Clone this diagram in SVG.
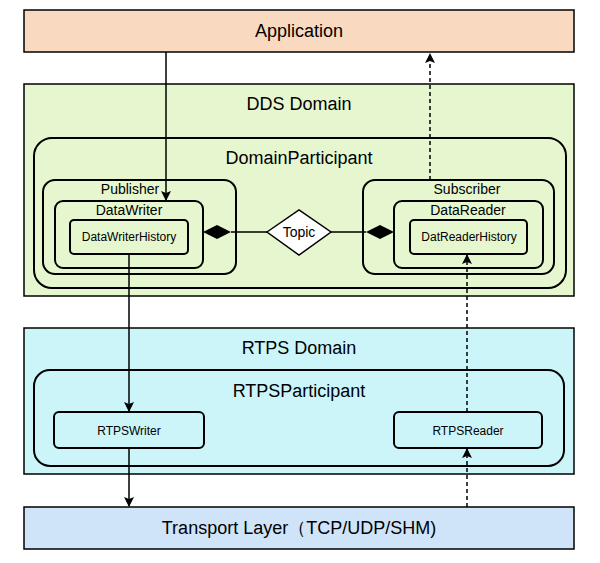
<svg xmlns="http://www.w3.org/2000/svg" width="600" height="563" viewBox="0 0 600 563">
<style>
text{font-family:"Liberation Sans",Arial,sans-serif;fill:#000;text-anchor:middle}
.b{stroke:#000;stroke-width:2;fill:none}
.l{font-size:18px}.m{font-size:14px}.s{font-size:12px}
.c{stroke:#000;stroke-width:1.5;fill:none}
.d{stroke-dasharray:4 3}
</style>
<defs><marker id="a" markerWidth="10" markerHeight="10" refX="9" refY="5" orient="auto" markerUnits="userSpaceOnUse"><path d="M0,0L10,5L0,10L2,5Z" fill="#000"/></marker></defs>
<rect width="600" height="563" fill="#fff"/>
<g id="application"><rect x="24" y="10" width="550" height="42" fill="#fad9c1" stroke="#000" stroke-width="1.5"/><text class="l" x="299" y="37">Application</text></g>
<g id="dds"><rect x="24" y="84" width="550" height="212" fill="#e6f7cf" stroke="#000" stroke-width="1.5"/><text class="l" x="299" y="110">DDS Domain</text></g>
<g id="domainparticipant"><rect class="b" x="34" y="138" width="532" height="150" rx="18"/><text class="l" x="299" y="164">DomainParticipant</text></g>
<g id="publisher"><rect class="b" x="43" y="180" width="193" height="94" rx="12"/><text class="m" x="130" y="194">Publisher</text></g>
<g id="datawriter"><rect class="b" x="55" y="201" width="148" height="67" rx="8"/><text class="m" x="129" y="215">DataWriter</text></g>
<g id="datawriterhistory"><rect class="b" x="70" y="220" width="118" height="34" rx="4"/><text class="s" x="129" y="241">DataWriterHistory</text></g>
<g id="subscriber"><rect class="b" x="363" y="180" width="191" height="94" rx="12"/><text class="m" x="467" y="194">Subscriber</text></g>
<g id="datareader"><rect class="b" x="394" y="201" width="149" height="67" rx="8"/><text class="m" x="468" y="215">DataReader</text></g>
<g id="datreaderhistory"><rect class="b" x="410" y="220" width="117" height="34" rx="4"/><text class="s" x="469" y="241">DatReaderHistory</text></g>
<g id="topic"><path d="M267,232L299,210L331,232L299,255Z" fill="#fff" stroke="#000" stroke-width="1.5"/><text class="m" x="299" y="237">Topic</text></g>
<g id="rtps"><rect x="24" y="328" width="550" height="146" fill="#ccf5fa" stroke="#000" stroke-width="1.5"/><text class="l" x="299" y="354">RTPS Domain</text></g>
<g id="rtpsparticipant"><rect class="b" x="34" y="370" width="530" height="96" rx="16"/><text class="l" x="299" y="397">RTPSParticipant</text></g>
<g id="rtpswriter"><rect class="b" x="54" y="412" width="150" height="36" rx="5"/><text class="s" x="129" y="435">RTPSWriter</text></g>
<g id="rtpsreader"><rect class="b" x="394" y="412" width="148" height="36" rx="5"/><text class="s" x="468" y="435">RTPSReader</text></g>
<g id="transport"><rect x="24" y="507" width="550" height="42" fill="#d0e4f9" stroke="#000" stroke-width="1.5"/><text class="l" x="299" y="534">Transport Layer（TCP/UDP/SHM)</text></g>
<g id="connectors">
<path class="c" d="M166,52V200" marker-end="url(#a)"/>
<path class="c d" d="M430,180V54" marker-end="url(#a)"/>
<path class="c" d="M129,254V411" marker-end="url(#a)"/>
<path class="c" d="M129,448V506" marker-end="url(#a)"/>
<path class="c d" d="M467,507V449" marker-end="url(#a)"/>
<path class="c d" d="M467,412V255" marker-end="url(#a)"/>
<path d="M231,232H267M331,232H366" class="c"/>
<path d="M203,232L217,225L231,232L217,239Z" fill="#000"/>
<path d="M366,232L380,225L394,232L380,239Z" fill="#000"/>
</g>
</svg>
